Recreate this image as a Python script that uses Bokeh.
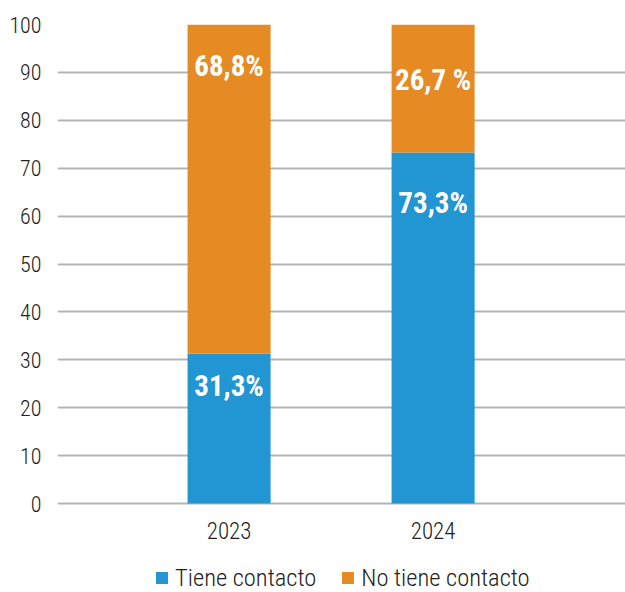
from bokeh.plotting import figure
from bokeh.models import ColumnDataSource, Range1d, Legend, LegendItem, FixedTicker
from bokeh.core.properties import value
from bokeh.embed import file_html
from bokeh.resources import INLINE

years = [2023, 2024]
year_labels = ["2023", "2024"]
tiene = [31.3, 73.3]
no_tiene = [68.8, 26.7]
tiene_labels = ["31,3%", "73,3%"]
no_tiene_labels = ["68,8%", "26,7 %"]
series_names = ["Tiene contacto", "No tiene contacto"]
y_ticks = [0, 10, 20, 30, 40, 50, 60, 70, 80, 90, 100]

BLUE = "#2196d3"
ORANGE = "#e68a24"
FONT = "'Roboto Condensed Light', 'Roboto Condensed', Roboto"
BFONT = "'Roboto Condensed', Roboto"

# frame: left 57, top 24, bottom of figure 592; value 0 sits at y=503 (4.79 px per unit)
p = figure(width=625, height=592, output_backend="svg", toolbar_location=None,
           x_range=Range1d(2022.159, 2024.943), y_range=Range1d(-18.58, 100),
           min_border_left=57, min_border_right=0, min_border_top=24, min_border_bottom=0)
p.outline_line_color = None
p.xaxis.visible = False

src = ColumnDataSource(dict(x=years, tiene=tiene, no=[100 - t for t in tiene],
                            top_t=tiene, top_n=[100.0, 100.0], base=[0, 0],
                            lt=tiene_labels, ln=no_tiene_labels, yl=year_labels,
                            off_n=[41, 55], off_t=[32, 51]))
r = p.vbar_stack(["tiene", "no"], x="x", width=0.407, color=[BLUE, ORANGE], source=src,
                 line_color=None)

# value labels
for ycol, tcol, ocol in (("top_n", "ln", "off_n"), ("top_t", "lt", "off_t")):
    p.text(x="x", y=ycol, text=tcol, source=src, text_align="center", text_baseline="middle",
           text_color="white", text_font=value(BFONT), text_font_style="bold",
           text_font_size="29px", y_offset=ocol)

# category labels under the bars
p.text(x="x", y="base", text="yl", source=src, text_align="center", text_baseline="middle",
       text_color="#222222", text_font=value(FONT), text_font_size="23px", y_offset=27)

p.yaxis.ticker = FixedTicker(ticks=y_ticks)
p.yaxis.axis_line_color = None
p.yaxis.major_tick_line_color = None
p.yaxis.minor_tick_line_color = None
p.yaxis.major_label_text_font = FONT
p.yaxis.major_label_text_font_size = "22px"
p.yaxis.major_label_text_color = "#222222"
p.yaxis.major_label_standoff = 10
p.xgrid.grid_line_color = None
p.ygrid.ticker = FixedTicker(ticks=y_ticks)
p.ygrid.grid_line_color = "#b4b4b4"
p.ygrid.grid_line_width = 2
p.ygrid.level = "underlay"

legend = Legend(items=[LegendItem(label=series_names[0], renderers=[r[0]]),
                       LegendItem(label=series_names[1], renderers=[r[1]])],
                orientation="horizontal", location=(97, 0),
                label_text_font=FONT, label_text_font_size="24.5px", label_text_color="#222222",
                glyph_width=15, glyph_height=15, spacing=24, label_standoff=6,
                border_line_color=None, background_fill_alpha=0, padding=0, margin=0)
p.add_layout(legend, "center")

open("out.html", "w").write(file_html(p, INLINE))
